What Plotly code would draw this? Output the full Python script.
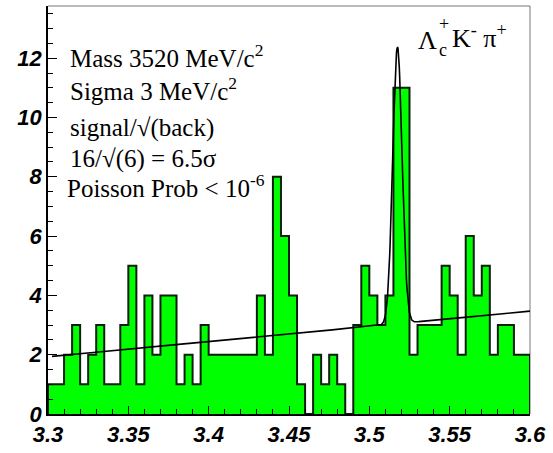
import numpy as np
import plotly.graph_objects as go

# ---- data ----
bin_lo = 3.30
bin_hi = 3.60
n_bins = 60
counts = [1, 1, 2, 3, 1, 2, 3, 1, 1, 3,
          5, 1, 4, 2, 4, 4, 1, 2, 1, 3,
          2, 2, 2, 2, 2, 2, 4, 2, 8, 6,
          4, 1, 0, 2, 1, 2, 1, 0, 3, 5,
          4, 3, 4, 11, 11, 2, 3, 3, 3, 5,
          4, 2, 6, 4, 5, 2, 3, 3, 2, 2]

# fit: linear background + gaussian
fit_range = [3.3025, 3.60]
bkg_at_lo = 1.93
bkg_slope = 5.13
peak_mean = 3.5175
peak_sigma = 0.0029
peak_amp = 9.34

x_tick_vals = [3.3, 3.35, 3.4, 3.45, 3.5, 3.55, 3.6]
x_tick_text = ["3.3", "3.35", "3.4", "3.45", "3.5", "3.55", "3.6"]
y_tick_vals = [0, 2, 4, 6, 8, 10, 12]
y_tick_text = ["0", "2", "4", "6", "8", "10", "12"]
y_max = 13.76

text_lines = [
    "Mass 3520 MeV/c<sup>2</sup>",
    "Sigma 3 MeV/c<sup>2</sup>",
    "signal/\u221a(back)",
    "16/\u221a(6) = 6.5\u03c3",
    "Poisson Prob &lt; 10<sup>-6</sup>",
]
channel_main = "\u039b"
channel_sub = "c"
channel_sup = "+"
channel_rest = "K<sup>-</sup> \u03c0<sup>+</sup>"

# ---- build ----
edges = np.linspace(bin_lo, bin_hi, n_bins + 1)
hx = [edges[0]] + list(edges) + [edges[-1]]
hy = [0] + list(counts) + [counts[-1], 0]

fx = np.linspace(fit_range[0], fit_range[1], 1200)
fy = bkg_at_lo + bkg_slope * (fx - bin_lo) + peak_amp * np.exp(-0.5 * ((fx - peak_mean) / peak_sigma) ** 2)

fig = go.Figure()
fig.add_trace(go.Scatter(
    x=hx, y=hy, mode="lines", line=dict(shape="hv", color="#0c1f0c", width=2),
    fill="tozeroy", fillcolor="#00ff00", hoverinfo="skip", showlegend=False))
fig.add_trace(go.Scatter(
    x=fx, y=fy, mode="lines", line=dict(color="black", width=1.6),
    hoverinfo="skip", showlegend=False))

L, R, T, B = 48, 23, 6, 30
W, H = 553, 453
pw = W - L - R
ph = H - T - B


def px2paper(px, py):
    return (px - L) / pw, (H - B - py) / ph


def put(txt, px, py, size):
    ax_, ay_ = px2paper(px, py)
    fig.add_annotation(x=ax_, y=ay_, xref="paper", yref="paper", text=txt,
                       showarrow=False, xanchor="left", yanchor="middle",
                       font=dict(family="Liberation Serif", size=size, color="black"))


line_pos = [(68, 57), (68, 91), (68, 131), (68, 162), (65, 190)]
for txt, (px, py) in zip(text_lines, line_pos):
    put(txt, px, py, 25)

put(channel_main, 416, 41, 26)
put(channel_sub, 437, 51, 18)
put(channel_sup, 437, 24, 18)
put(channel_rest, 450, 37, 26)

tickfont = dict(family="Liberation Sans", size=22, color="black", weight="bold", style="italic")

fig.update_xaxes(range=[bin_lo, bin_hi], tickmode="array", tickvals=x_tick_vals, ticktext=x_tick_text,
                 ticks="inside", ticklen=8, tickwidth=1, tickcolor="black",
                 minor=dict(dtick=0.01, ticks="inside", ticklen=5, tickwidth=1, tickcolor="black"),
                 showline=True, linecolor="black", linewidth=2, showgrid=False, zeroline=False,
                 tickfont=tickfont)
fig.update_yaxes(range=[0, y_max], tickmode="array", tickvals=y_tick_vals, ticktext=y_tick_text,
                 ticks="inside", ticklen=9, tickwidth=1, tickcolor="black",
                 minor=dict(dtick=0.5, ticks="inside", ticklen=5, tickwidth=1, tickcolor="black"),
                 showline=True, linecolor="black", linewidth=1.5, showgrid=False, zeroline=False,
                 tickfont=tickfont)

fig.add_shape(type="line", xref="paper", yref="paper", x0=0, x1=1, y0=1, y1=1,
              line=dict(color="#777777", width=1), layer="below")
fig.add_shape(type="line", xref="paper", yref="paper", x0=1, x1=1, y0=0, y1=1,
              line=dict(color="#777777", width=1), layer="below")

fig.update_layout(width=W, height=H, margin=dict(l=L, r=R, t=T, b=B),
                  paper_bgcolor="white", plot_bgcolor="white", showlegend=False)

fig.write_html("out.html")
